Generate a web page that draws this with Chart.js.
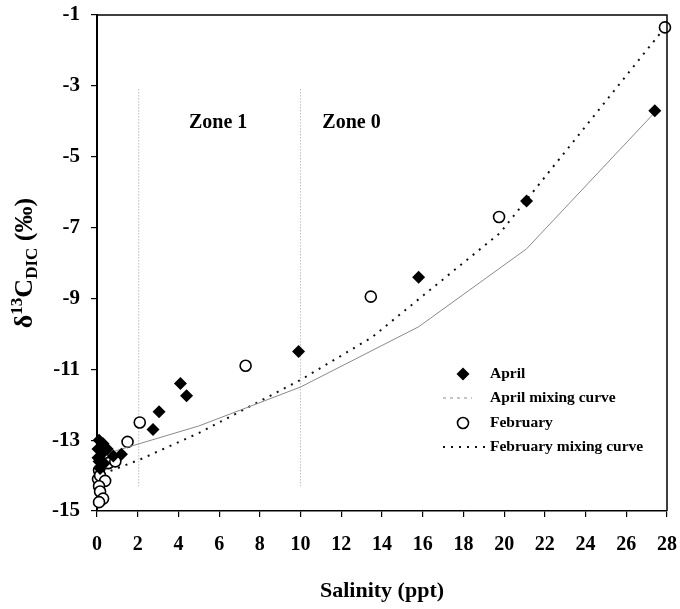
<!DOCTYPE html>
<html>
<head>
<meta charset="utf-8">
<script src="https://cdn.jsdelivr.net/npm/chart.js@4.4.1/dist/chart.umd.min.js"></script>
<style>
  body { margin: 0; background: #fff; }
  canvas { display: block; }
</style>
</head>
<body>
<canvas id="d13c" width="680" height="609"></canvas>
<script>
// salinity (ppt) and d13C-DIC (permil)
const aprilSalinity = [0.1, 0.3, 0.05, 0.5, 0.3, 1.2, 0.05, 0.8, 0.1, 0.35, 0.15, 2.75, 3.05, 4.1, 4.4, 9.9, 15.8, 21.1, 27.4];
const aprilD13C = [-13.0, -13.1, -13.25, -13.25, -13.35, -13.4, -13.5, -13.45, -13.6, -13.65, -13.8, -12.7, -12.2, -11.4, -11.75, -10.5, -8.4, -6.25, -3.7];

const febSalinity = [0.05, 0.1, 0.15, 0.4, 0.1, 0.15, 0.3, 0.1, 0.55, 0.9, 1.5, 2.1, 7.3, 13.45, 19.75, 27.9];
const febD13C = [-14.1, -13.85, -14.0, -14.15, -14.3, -14.45, -14.65, -14.75, -13.65, -13.6, -13.05, -12.5, -10.9, -8.95, -6.7, -1.35];

const aprilCurveSalinity = [0.1, 1.5, 5, 10, 15.8, 21.1, 27.4];
const aprilCurveD13C = [-13.45, -13.2, -12.6, -11.5, -9.8, -7.6, -3.75];

const febCurveSalinity = [0.3, 2.1, 5, 10, 13.5, 19.8, 27.9];
const febCurveD13C = [-13.95, -13.55, -12.8, -11.3, -10.1, -7.15, -1.35];

const zoneBounds = [2.05, 10];
const zoneSpan = [-3.1, -14.3];
const zoneNames = ['Zone 1', 'Zone 0'];

const xTicks = [0, 2, 4, 6, 8, 10, 12, 14, 16, 18, 20, 22, 24, 26, 28];
const yTicks = [-15, -13, -11, -9, -7, -5, -3, -1];

const serif = "'Liberation Serif', 'Times New Roman', serif";

function pairs(xs, ys) {
  return xs.map((x, i) => ({ x: x, y: ys[i] }));
}

const datasets = [
  {
    label: 'April',
    data: pairs(aprilSalinity, aprilD13C),
    pointStyle: 'rectRot',
    pointRadius: 6.5,
    backgroundColor: '#000',
    borderColor: '#000',
    borderWidth: 0,
    clip: false
  },
  {
    label: 'April mixing curve',
    data: pairs(aprilCurveSalinity, aprilCurveD13C),
    showLine: true,
    pointRadius: 0,
    borderColor: '#8a8a8a',
    borderWidth: 1,
    legendDash: [3, 4]
  },
  {
    label: 'February',
    data: pairs(febSalinity, febD13C),
    pointStyle: 'circle',
    pointRadius: 5.5,
    backgroundColor: '#fff',
    borderColor: '#000',
    borderWidth: 1.6,
    clip: false
  },
  {
    label: 'February mixing curve',
    data: pairs(febCurveSalinity, febCurveD13C),
    showLine: true,
    pointRadius: 0,
    borderColor: '#111',
    borderWidth: 2,
    borderDash: [2, 6]
  }
];

zoneBounds.forEach(b => {
  datasets.push({
    label: '',
    data: pairs([b, b], zoneSpan),
    showLine: true,
    pointRadius: 0,
    borderColor: '#999',
    borderWidth: 1,
    borderDash: [1, 2]
  });
});

const overlay = {
  id: 'overlay',
  afterDraw(chart) {
    const ctx = chart.ctx;
    const a = chart.chartArea;
    const xs = chart.scales.x, ys = chart.scales.y;
    ctx.save();

    // frame top/right
    ctx.strokeStyle = '#000';
    ctx.lineWidth = 1.5;
    ctx.beginPath();
    ctx.moveTo(a.left, a.top);
    ctx.lineTo(a.right, a.top);
    ctx.lineTo(a.right, a.bottom);
    ctx.stroke();

    // zone labels
    ctx.fillStyle = '#000';
    ctx.font = 'bold 20px ' + serif;
    ctx.textAlign = 'center';
    ctx.textBaseline = 'middle';
    ctx.fillText(zoneNames[0], xs.getPixelForValue(5.95), ys.getPixelForValue(-4.05));
    ctx.fillText(zoneNames[1], xs.getPixelForValue(12.5), ys.getPixelForValue(-4.05));

    // legend
    const rowY = [374, 398, 423, 447];
    let row = 0;
    chart.data.datasets.forEach(ds => {
      if (!ds.label) return;
      const y = rowY[row++];
      if (ds.showLine) {
        ctx.strokeStyle = ds.borderColor;
        ctx.lineWidth = ds.borderWidth;
        ctx.setLineDash(ds.legendDash || ds.borderDash || []);
        ctx.beginPath();
        ctx.moveTo(443, y);
        ctx.lineTo(ds.borderDash ? 488 : 472, y);
        ctx.stroke();
        ctx.setLineDash([]);
      } else {
        ctx.fillStyle = ds.backgroundColor;
        ctx.strokeStyle = ds.borderColor;
        ctx.lineWidth = ds.borderWidth;
        Chart.helpers.drawPoint(ctx, {
          pointStyle: ds.pointStyle,
          radius: ds.pointRadius,
          rotation: 0,
          borderWidth: ds.borderWidth
        }, 463, y);
      }
      ctx.fillStyle = '#000';
      ctx.font = 'bold 15.5px ' + serif;
      ctx.textAlign = 'left';
      ctx.textBaseline = 'middle';
      ctx.fillText(ds.label, 490, y);
    });

    // y axis title with super/subscripts
    const big = 'bold 26px ' + serif, small = 'bold 17px ' + serif;
    const parts = [
      ['\u03b4', big, 0],
      ['13', small, -10],
      ['C', big, 0],
      ['DIC', small, 5],
      [' (\u2030)', big, 0]
    ];
    let total = 0;
    parts.forEach(p => { ctx.font = p[1]; total += ctx.measureText(p[0]).width; });
    ctx.translate(32, (a.top + a.bottom) / 2);
    ctx.rotate(-Math.PI / 2);
    ctx.textAlign = 'left';
    ctx.textBaseline = 'alphabetic';
    let cx = -total / 2;
    parts.forEach(p => {
      ctx.font = p[1];
      ctx.fillText(p[0], cx, p[2]);
      cx += ctx.measureText(p[0]).width;
    });
    ctx.restore();
  }
};

new Chart(document.getElementById('d13c'), {
  type: 'scatter',
  data: { datasets: datasets },
  options: {
    responsive: false,
    animation: false,
    devicePixelRatio: 1,
    layout: { padding: { top: 15, right: 13, left: 0, bottom: 0 } },
    plugins: {
      legend: { display: false },
      tooltip: { enabled: false }
    },
    scales: {
      x: {
        type: 'linear',
        min: 0,
        max: 28,
        afterBuildTicks: s => { s.ticks = xTicks.map(v => ({ value: v })); },
        afterFit: s => { s.height = 98; s.paddingLeft = 0; s.paddingRight = 0; },
        grid: { drawOnChartArea: false, drawTicks: true, tickLength: 6, color: '#000', lineWidth: 1.2 },
        border: { display: true, color: '#000', width: 1.5 },
        ticks: { color: '#000', padding: 16, maxRotation: 0, font: { family: serif, size: 20, weight: 'bold' } },
        title: {
          display: true,
          text: 'Salinity (ppt)',
          color: '#000',
          padding: { top: 0, bottom: 4 },
          font: { family: serif, size: 22, weight: 'bold' }
        }
      },
      y: {
        type: 'linear',
        min: -15,
        max: -1,
        afterBuildTicks: s => { s.ticks = yTicks.map(v => ({ value: v })); },
        afterFit: s => { s.width = 97; s.paddingTop = 0; s.paddingBottom = 0; },
        grid: { drawOnChartArea: false, drawTicks: true, tickLength: 6, color: '#000', lineWidth: 1.2 },
        border: { display: true, color: '#000', width: 2 },
        ticks: { color: '#000', padding: 11, font: { family: serif, size: 21, weight: 'bold' } }
      }
    }
  },
  plugins: [overlay]
});
</script>
</body>
</html>
